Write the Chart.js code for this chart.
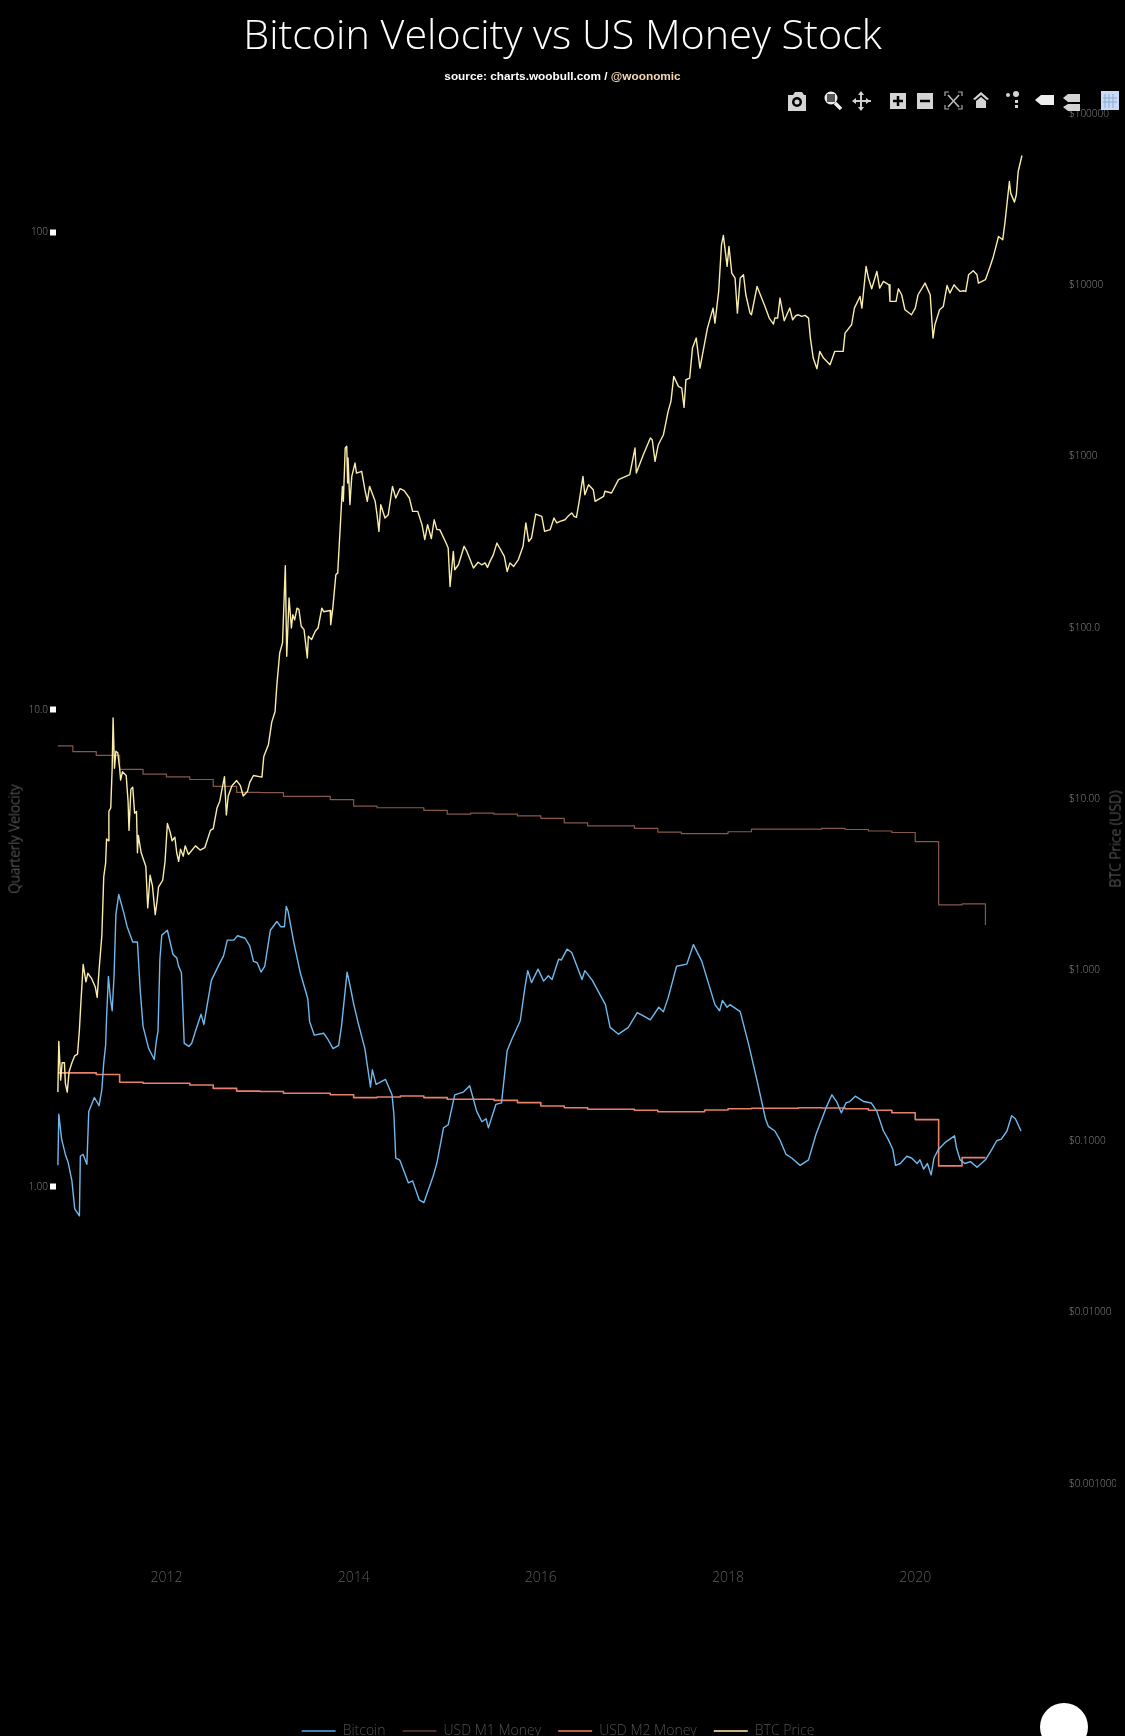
<!DOCTYPE html>
<html>
<head>
<meta charset="utf-8">
<title>Bitcoin Velocity vs US Money Stock</title>
<script src="https://cdn.jsdelivr.net/npm/chart.js@4"></script>
<style>
    html, body { margin: 0; padding: 0; background: #000; overflow: hidden; }
    #wrap { position: relative; width: 1125px; height: 1736px; overflow: hidden; }
    #chart { position: absolute; left: 0; top: 0; }
    #mainTitle { position: absolute; left: 0; width: 1125px; top: 5px; text-align: center; color: #fff;
        font: 300 41.3px "Open Sans", sans-serif; white-space: nowrap; }
    #source { position: absolute; left: 0; width: 1125px; top: 69px; text-align: center; color: #fff;
        font: bold 11.8px "Liberation Sans", sans-serif; white-space: nowrap; }
    #source span { color: #f6d9b4; }
    .axisTitle { position: absolute; top: 839px; color: #808080; white-space: nowrap;
        font: 300 13.8px "Open Sans", sans-serif; transform: translate(-50%, -50%) rotate(-90deg); }
    #velocityTitle { left: 14px; }
    #priceTitle { left: 1115px; }
    #dot { position: absolute; left: 1040px; top: 1703px; width: 48px; height: 48px; border-radius: 50%; background: #fff; }
    #bar { position: absolute; left: 770px; top: 80px; }
</style>
</head>
<body>
<div id="wrap">
    <canvas id="chart" width="1125" height="1736"></canvas>
    <div id="mainTitle">Bitcoin Velocity vs US Money Stock</div>
    <div id="source">source: charts.woobull.com / <span>@woonomic</span></div>
    <div id="velocityTitle" class="axisTitle">Quarterly Velocity</div>
    <div id="priceTitle" class="axisTitle">BTC Price (USD)</div>
    <div id="dot"></div>
    <svg id="bar" width="355" height="50" fill="#d4d4d4" stroke="none">
        <!-- camera -->
        <path d="M18 15h5l2-3h7l2 3h2v16H18z"/><circle cx="27" cy="22" r="5" fill="#000"/><circle cx="27" cy="22" r="2.5"/>
        <!-- zoom -->
        <circle cx="61" cy="18" r="6.5" fill="#eee"/><rect x="57" y="14" width="8" height="8" fill="#555"/><path d="M65 23l6 6" stroke="#eee" stroke-width="3.5"/>
        <!-- pan -->
        <path d="M91 12v18M83 21h18" stroke="#ccc" stroke-width="2"/><path d="M91 11l-3 4h6zM91 31l-3-4h6zM82 21l4-3v6zM100 21l-4-3v6z"/>
        <!-- plus / minus -->
        <rect x="120" y="13" width="16" height="16"/><path d="M128 16v10M123 21h10" stroke="#000" stroke-width="2.5"/>
        <rect x="147" y="13" width="16" height="16"/><path d="M150 21h10" stroke="#000" stroke-width="2.5"/>
        <!-- autoscale -->
        <path d="M175 16v-4h4M188 12h4v4M192 25v4h-4M179 29h-4v-4" fill="none" stroke="#aaa" stroke-width="1.2"/><path d="M178 15l11 12M189 15l-11 12" stroke="#bbb" stroke-width="1.6"/>
        <!-- home -->
        <path d="M203 19l8-7 8 7-2 1-6-5-6 5zM206 21l5-4 5 4v7h-10z"/>
        <!-- spike lines -->
        <circle cx="238" cy="15" r="2"/><circle cx="246" cy="14" r="3"/><rect x="245" y="20" width="3" height="3"/><rect x="245" y="25" width="3" height="3"/>
        <!-- hover labels -->
        <path d="M265 20l6-5h13v10h-13z" fill="#eee"/>
        <path d="M293 18l5-4h12v8h-12z M293 27l5-3h12v7h-12z"/>
        <!-- logo box -->
        <rect x="331" y="11" width="18" height="19" fill="#c9daf4"/><path d="M335 14v14M339 14v14M343 14v14M333 18h14M333 22h14" stroke="#8aa9d6" stroke-width="1"/>
    </svg>
</div>
<script>
// ===== 데이터 =====
const velocityTicks = [1, 10, 100];
const velocityTickLabels = ['1.00', '10.0', '100'];
const priceTicks = [100000, 10000, 1000, 100, 10, 1, 0.1, 0.01, 0.001];
const priceTickLabels = ['$100000', '$10000', '$1000', '$100.0', '$10.00', '$1.000', '$0.1000', '$0.01000', '$0.001000'];
const yearTicks = [2012, 2014, 2016, 2018, 2020];
const seriesNames = ['Bitcoin', 'USD M1 Money', 'USD M2 Money', 'BTC Price'];

const bitcoinYears = [
    2010.84, 2010.85, 2010.88, 2010.92, 2010.95, 2010.99, 2011.02, 2011.07, 2011.08, 2011.11,
    2011.15, 2011.17, 2011.23, 2011.28, 2011.31, 2011.33, 2011.35, 2011.36, 2011.38, 2011.40,
    2011.42, 2011.44, 2011.46, 2011.49, 2011.54, 2011.58, 2011.64, 2011.69, 2011.72, 2011.75,
    2011.81, 2011.87, 2011.89, 2011.91, 2011.93, 2011.95, 2012.01, 2012.07, 2012.11, 2012.13,
    2012.16, 2012.19, 2012.24, 2012.27, 2012.32, 2012.37, 2012.40, 2012.48, 2012.56, 2012.61,
    2012.65, 2012.72, 2012.76, 2012.84, 2012.89, 2012.93, 2012.97, 2013.01, 2013.05, 2013.11,
    2013.18, 2013.22, 2013.26, 2013.28, 2013.30, 2013.36, 2013.43, 2013.51, 2013.53, 2013.58,
    2013.68, 2013.73, 2013.78, 2013.84, 2013.87, 2013.93, 2013.96, 2014.00, 2014.05, 2014.12,
    2014.18, 2014.20, 2014.24, 2014.34, 2014.41, 2014.43, 2014.45, 2014.49, 2014.50, 2014.585,
    2014.63, 2014.70, 2014.75, 2014.85, 2014.89, 2014.96, 2015.01, 2015.08, 2015.17, 2015.24,
    2015.315, 2015.37, 2015.415, 2015.44, 2015.52, 2015.58, 2015.64, 2015.69, 2015.78, 2015.83,
    2015.86, 2015.90, 2015.97, 2016.03, 2016.08, 2016.12, 2016.19, 2016.22, 2016.28, 2016.33,
    2016.44, 2016.47, 2016.55, 2016.69, 2016.74, 2016.83, 2016.935, 2017.03, 2017.10, 2017.17,
    2017.26, 2017.31, 2017.36, 2017.45, 2017.56, 2017.63, 2017.72, 2017.86, 2017.91, 2017.94,
    2017.99, 2018.02, 2018.13, 2018.22, 2018.31, 2018.40, 2018.43, 2018.50, 2018.55, 2018.62,
    2018.68, 2018.77, 2018.86, 2018.94, 2019.05, 2019.11, 2019.16, 2019.21, 2019.26, 2019.30,
    2019.36, 2019.45, 2019.53, 2019.59, 2019.66, 2019.71, 2019.76, 2019.79, 2019.84, 2019.91,
    2019.96, 2020.02, 2020.05, 2020.09, 2020.13, 2020.17, 2020.20, 2020.25, 2020.32, 2020.37,
    2020.42, 2020.44, 2020.48, 2020.53, 2020.59, 2020.66, 2020.75, 2020.82, 2020.87, 2020.92,
    2020.98, 2021.03, 2021.07, 2021.13
];
const bitcoinVelocity = [
    1.11, 1.42, 1.26, 1.17, 1.125, 1.03, 0.90, 0.87, 1.16, 1.17,
    1.116, 1.44, 1.54, 1.48, 1.60, 1.82, 1.98, 2.26, 2.76, 2.50,
    2.34, 2.76, 3.72, 4.10, 3.78, 3.51, 3.26, 3.26, 2.58, 2.17,
    1.95, 1.85, 2.01, 2.12, 3.00, 3.37, 3.45, 3.07, 3.02, 2.90,
    2.81, 2.00, 1.97, 2.00, 2.15, 2.30, 2.19, 2.71, 2.92, 3.05,
    3.29, 3.29, 3.36, 3.32, 3.20, 2.97, 2.95, 2.82, 2.90, 3.45,
    3.60, 3.51, 3.51, 3.87, 3.78, 3.26, 2.81, 2.48, 2.22, 2.08,
    2.10, 2.03, 1.95, 1.98, 2.17, 2.82, 2.65, 2.42, 2.20, 1.95,
    1.62, 1.76, 1.64, 1.68, 1.56, 1.42, 1.15, 1.14, 1.13, 1.02,
    1.03, 0.94, 0.927, 1.054, 1.124, 1.33, 1.35, 1.56, 1.58, 1.63,
    1.44, 1.37, 1.39, 1.33, 1.49, 1.50, 1.93, 2.04, 2.23, 2.62,
    2.84, 2.68, 2.86, 2.70, 2.77, 2.72, 3.00, 2.99, 3.15, 3.10,
    2.72, 2.84, 2.71, 2.41, 2.16, 2.09, 2.16, 2.32, 2.28, 2.24,
    2.38, 2.33, 2.49, 2.90, 2.93, 3.22, 2.97, 2.41, 2.34, 2.46,
    2.38, 2.41, 2.33, 1.99, 1.67, 1.39, 1.34, 1.31, 1.26, 1.17,
    1.15, 1.11, 1.14, 1.29, 1.47, 1.56, 1.51, 1.43, 1.50, 1.51,
    1.55, 1.51, 1.50, 1.44, 1.31, 1.26, 1.20, 1.11, 1.12, 1.16,
    1.15, 1.12, 1.14, 1.09, 1.12, 1.06, 1.15, 1.20, 1.24, 1.26,
    1.28, 1.21, 1.14, 1.12, 1.13, 1.10, 1.14, 1.20, 1.25, 1.26,
    1.31, 1.41, 1.39, 1.31
];

const quarterYears = [
    2010.84, 2011.00, 2011.25, 2011.50, 2011.75, 2012.00, 2012.25, 2012.50, 2012.75, 2013.00,
    2013.25, 2013.50, 2013.75, 2014.00, 2014.25, 2014.50, 2014.75, 2015.00, 2015.25, 2015.50,
    2015.75, 2016.00, 2016.25, 2016.50, 2016.75, 2017.00, 2017.25, 2017.50, 2017.75, 2018.00,
    2018.25, 2018.50, 2018.75, 2019.00, 2019.25, 2019.50, 2019.75, 2020.00, 2020.25, 2020.50,
    2020.75
];
const m1Velocity = [
    8.40, 8.17, 8.02, 7.50, 7.33, 7.23, 7.14, 6.91, 6.71, 6.70,
    6.58, 6.58, 6.48, 6.28, 6.23, 6.23, 6.15, 6.04, 6.07, 6.04,
    5.99, 5.92, 5.79, 5.71, 5.71, 5.64, 5.54, 5.50, 5.50, 5.55,
    5.62, 5.62, 5.62, 5.64, 5.61, 5.57, 5.53, 5.29, 3.90, 3.92,
    3.54
];
const m2Velocity = [
    1.734, 1.734, 1.720, 1.658, 1.650, 1.650, 1.636, 1.609, 1.588, 1.585,
    1.572, 1.572, 1.561, 1.539, 1.544, 1.551, 1.539, 1.527, 1.527, 1.519,
    1.502, 1.478, 1.466, 1.455, 1.455, 1.448, 1.438, 1.438, 1.450, 1.459,
    1.462, 1.462, 1.466, 1.464, 1.459, 1.448, 1.431, 1.384, 1.107, 1.152,
    1.152
];

const priceYears = [
    2010.84, 2010.85, 2010.87, 2010.885, 2010.91, 2010.92, 2010.94, 2010.96, 2010.99, 2011.02,
    2011.05, 2011.07, 2011.085, 2011.11, 2011.14, 2011.16, 2011.20, 2011.24, 2011.26, 2011.28,
    2011.31, 2011.33, 2011.35, 2011.36, 2011.38, 2011.385, 2011.405, 2011.42, 2011.43, 2011.445,
    2011.46, 2011.48, 2011.50, 2011.51, 2011.53, 2011.57, 2011.59, 2011.60, 2011.62, 2011.64,
    2011.66, 2011.68, 2011.69, 2011.70, 2011.73, 2011.78, 2011.80, 2011.825, 2011.85, 2011.88,
    2011.90, 2011.915, 2011.96, 2011.985, 2012.01, 2012.04, 2012.06, 2012.09, 2012.11, 2012.13,
    2012.15, 2012.18, 2012.20, 2012.235, 2012.31, 2012.36, 2012.41, 2012.47, 2012.50, 2012.54,
    2012.57, 2012.59, 2012.62, 2012.64, 2012.66, 2012.70, 2012.75, 2012.79, 2012.82, 2012.865,
    2012.89, 2012.93, 2013.02, 2013.04, 2013.09, 2013.125, 2013.16, 2013.18, 2013.21, 2013.24,
    2013.27, 2013.285, 2013.31, 2013.335, 2013.35, 2013.37, 2013.395, 2013.415, 2013.44, 2013.47,
    2013.505, 2013.516, 2013.55, 2013.59, 2013.62, 2013.66, 2013.68, 2013.75, 2013.755, 2013.776,
    2013.81, 2013.83, 2013.86, 2013.88, 2013.89, 2013.91, 2013.926, 2013.936, 2013.94, 2013.96,
    2013.98, 2014.015, 2014.03, 2014.086, 2014.12, 2014.146, 2014.17, 2014.19, 2014.23, 2014.25,
    2014.27, 2014.29, 2014.335, 2014.37, 2014.415, 2014.45, 2014.495, 2014.54, 2014.595, 2014.63,
    2014.685, 2014.73, 2014.76, 2014.79, 2014.83, 2014.86, 2014.89, 2014.92, 2014.98, 2015.01,
    2015.03, 2015.065, 2015.08, 2015.12, 2015.18, 2015.21, 2015.28, 2015.33, 2015.368, 2015.404, 2015.43, 2015.457, 2015.493, 2015.53,
    2015.56, 2015.61, 2015.64, 2015.67, 2015.71, 2015.76, 2015.81, 2015.84, 2015.87, 2015.90,
    2015.945, 2016.01, 2016.04, 2016.10, 2016.14, 2016.17, 2016.205, 2016.258, 2016.29, 2016.33, 2016.355, 2016.38, 2016.41, 2016.45,
    2016.47, 2016.51, 2016.56, 2016.58, 2016.67, 2016.685, 2016.755, 2016.83, 2016.95, 2017.006,
    2017.02, 2017.095, 2017.17, 2017.19, 2017.22, 2017.255, 2017.31, 2017.36, 2017.39, 2017.42,
    2017.47, 2017.505, 2017.53, 2017.55, 2017.59, 2017.62, 2017.66, 2017.70, 2017.74, 2017.78,
    2017.84, 2017.86, 2017.90, 2017.93, 2017.95, 2017.99, 2018.01, 2018.04, 2018.075, 2018.10,
    2018.13, 2018.165, 2018.19, 2018.235, 2018.25, 2018.31, 2018.395, 2018.44, 2018.485, 2018.50,
    2018.53, 2018.555, 2018.60, 2018.66, 2018.69, 2018.723, 2018.75, 2018.787, 2018.823, 2018.86, 2018.88, 2018.91, 2018.95,
    2018.98, 2019.02, 2019.09, 2019.14, 2019.23, 2019.25, 2019.32, 2019.35, 2019.41, 2019.43,
    2019.475, 2019.50, 2019.535, 2019.59, 2019.62, 2019.66, 2019.72, 2019.73, 2019.795, 2019.82,
    2019.855, 2019.89, 2019.96, 2020.00, 2020.03, 2020.105, 2020.16, 2020.19, 2020.21, 2020.26,
    2020.30, 2020.34, 2020.37, 2020.415, 2020.443, 2020.48, 2020.515, 2020.54, 2020.57, 2020.62, 2020.66, 2020.675,
    2020.75, 2020.80, 2020.835, 2020.89, 2020.935, 2020.96, 2021.006, 2021.02, 2021.06, 2021.08,
    2021.10, 2021.14
];
const priceValues = [
    0.194, 0.384, 0.228, 0.288, 0.288, 0.218, 0.194, 0.256, 0.288, 0.316,
    0.323, 0.447, 0.632, 1.08, 0.854, 0.959, 0.895, 0.797, 0.694, 1.00,
    1.60, 3.50, 4.22, 5.83, 5.70, 8.45, 8.85, 15.1, 29.7, 15.1,
    19.0, 18.6, 15.1, 12.9, 14.4, 13.7, 9.70, 6.55, 11.4, 11.7,
    8.25, 8.45, 4.85, 6.11, 4.85, 4.03, 2.31, 3.59, 3.12, 2.11,
    2.54, 3.05, 3.35, 4.32, 7.18, 6.40, 5.70, 5.97, 4.85, 4.32,
    5.08, 4.63, 5.32, 4.74, 5.32, 5.03, 5.19, 6.55, 6.70, 8.85,
    9.70, 11.15, 13.5, 8.06, 10.4, 11.95, 12.8, 11.95, 10.4, 11.05,
    12.5, 13.7, 13.4, 17.7, 20.8, 28.1, 32.3, 46.5, 71.2, 81.5,
    230, 68.1, 149, 99.6, 119, 111, 130, 128, 102, 97.4,
    66.6, 89.1, 85.2, 95.3, 99.6, 130, 124, 126, 104, 128,
    204, 209, 418, 669, 547, 1120, 1146, 700, 979, 523,
    765, 916, 800, 819, 640, 547, 669, 626, 547, 457,
    365, 523, 437, 457, 669, 572, 648, 631, 572, 478,
    478, 400, 327, 400, 331, 427, 374, 374, 319, 292,
    174, 279, 218, 233, 299, 279, 223, 241, 233, 239, 225, 244, 267, 312,
    292, 261, 213, 239, 228, 250, 299, 409, 319, 334,
    461, 447, 365, 374, 437, 409, 418, 427, 447, 468, 447, 441, 547, 765,
    598, 684, 640, 547, 585, 626, 612, 732, 783, 1120,
    800, 1024, 1281, 1253, 936, 1171, 1340, 1833, 2098, 2935,
    2566, 2509, 1935, 2806, 2870, 4295, 4914, 3281, 4295, 5620,
    7354, 6011, 9200, 17230, 19530, 12880, 16850, 11770, 11010, 6875,
    11010, 11510, 8800, 6875, 6723, 9840, 7520, 6430, 5932, 6430,
    6430, 8414, 6204, 7354, 6287, 6632, 6723, 6575, 6663, 6430, 4914, 3755, 3254,
    4107, 3755, 3433, 4107, 4107, 5255, 5878, 7354, 8600, 7354,
    12880, 11010, 9537, 12040, 9622, 10530, 10060, 8045, 8045, 9537,
    8800, 7191, 6723, 7354, 8800, 10290, 8800, 4914, 5878, 7191,
    7520, 9970, 8996, 10060, 9622, 9200, 9285, 9200, 11510, 12150, 11510, 10290,
    10770, 12880, 14730, 19270, 18430, 23580, 40360, 34500, 30570, 33740,
    46170, 57240
];

// ===== 색상 =====
const LINE_COLORS = ['#6fb9ee', '#86594c', '#e8806a', '#f9eca9'];
const LEGEND_COLORS = ['#3f7fb4', '#4a2e26', '#b55f47', '#c9b27f'];

function toPoints(xs, ys) {
    return xs.map((x, i) => ({ x: x, y: ys[i] }));
}

function fixedWidth(width) {
    return scale => { scale.width = width; };
}

const lightFont = size => ({ family: '"Open Sans", sans-serif', weight: '300', size: size });

// ===== 차트 렌더링 =====
new Chart(document.getElementById('chart').getContext('2d'), {
    type: 'line',
    data: {
        datasets: [
            { label: seriesNames[0], data: toPoints(bitcoinYears, bitcoinVelocity), yAxisID: 'y', borderColor: LINE_COLORS[0], borderWidth: 1.4, order: 0 },
            { label: seriesNames[1], data: toPoints(quarterYears, m1Velocity), yAxisID: 'y', borderColor: LINE_COLORS[1], borderWidth: 1.2, stepped: true, order: 3 },
            { label: seriesNames[2], data: toPoints(quarterYears, m2Velocity), yAxisID: 'y', borderColor: LINE_COLORS[2], borderWidth: 1.6, stepped: true, order: 2 },
            { label: seriesNames[3], data: toPoints(priceYears, priceValues), yAxisID: 'y1', borderColor: LINE_COLORS[3], borderWidth: 1.4, order: 1 }
        ]
    },
    options: {
        responsive: false,
        animation: false,
        parsing: false,
        normalized: true,
        // 범례가 중앙보다 약간 왼쪽, 아래쪽은 화면 밖으로 살짝 잘림
        layout: { padding: { top: 114, right: 9, bottom: -12 } },
        elements: { point: { radius: 0 }, line: { tension: 0, borderJoinStyle: 'round' } },
        plugins: {
            tooltip: { enabled: false },
            legend: {
                position: 'bottom',
                labels: {
                    boxWidth: 34,
                    boxHeight: 2,
                    padding: 17,
                    color: '#505050',
                    font: lightFont(14),
                    sort: (a, b) => a.datasetIndex - b.datasetIndex,
                    generateLabels: c => c.data.datasets.map((d, i) => ({
                        text: d.label, fillStyle: LEGEND_COLORS[i], strokeStyle: LEGEND_COLORS[i],
                        lineWidth: 0, datasetIndex: i, fontColor: '#505050'
                    }))
                }
            }
        },
        scales: {
            x: {
                type: 'linear',
                min: 2010.82,
                max: 2021.568,
                grid: { display: false, drawTicks: false },
                border: { display: false },
                afterFit: scale => { scale.height = 149; },
                afterBuildTicks: scale => { scale.ticks = yearTicks.map(v => ({ value: v })); },
                ticks: { color: '#5c5c5c', font: lightFont(14), padding: 12, maxRotation: 0, autoSkip: false,
                    callback: v => String(v) }
            },
            y: {
                type: 'logarithmic',
                position: 'left',
                min: 0.167,
                max: 177,
                grid: { drawOnChartArea: false, tickLength: 6, tickWidth: 6, tickColor: '#fff' },
                border: { display: false },
                afterFit: fixedWidth(56),
                afterBuildTicks: scale => { scale.ticks = velocityTicks.map(v => ({ value: v })); },
                ticks: { color: '#8a8a8a', font: lightFont(10), padding: 2, autoSkip: false,
                    callback: (v, i) => velocityTickLabels[i] }
            },
            y1: {
                type: 'logarithmic',
                position: 'right',
                min: 0.000369,
                max: 100000,
                grid: { display: false, drawTicks: false },
                border: { display: false },
                afterFit: fixedWidth(54),
                afterBuildTicks: scale => { scale.ticks = priceTicks.map(v => ({ value: v })); },
                ticks: { color: '#8a8a8a', font: lightFont(10), padding: 7, autoSkip: false,
                    callback: (v, i) => priceTickLabels[i] }
            }
        }
    }
});
</script>
</body>
</html>
